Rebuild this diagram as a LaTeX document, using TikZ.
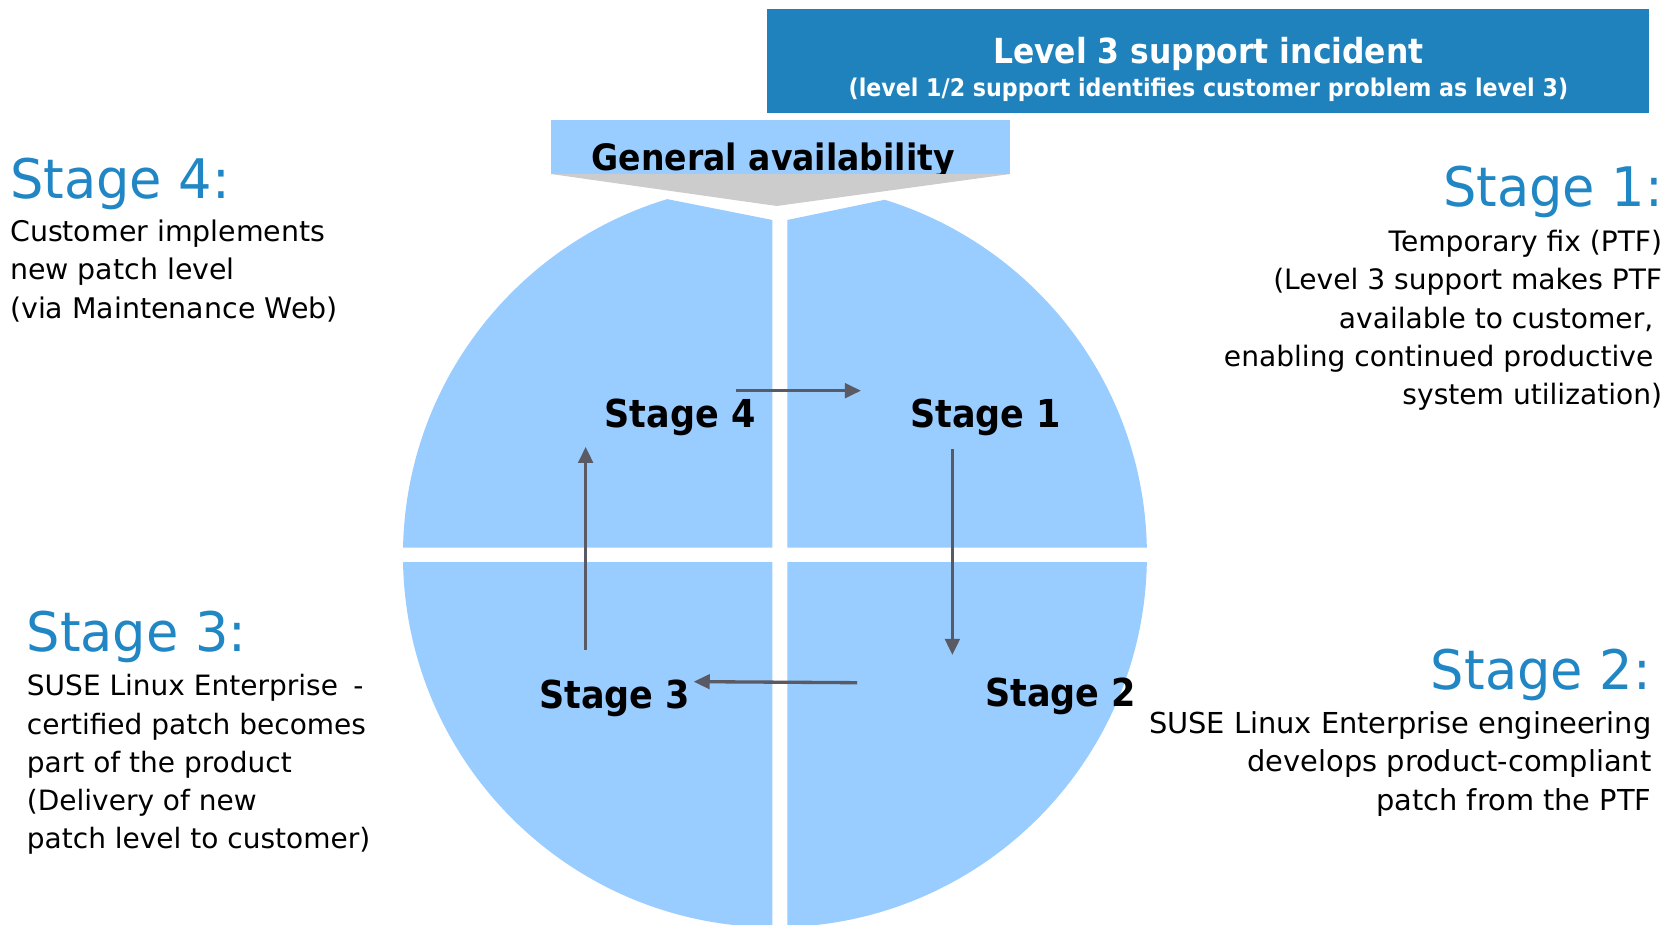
\documentclass[tikz,border=0pt]{standalone}
\usepackage{fontspec}
\setmainfont{DejaVu Sans}
\newfontfamily\condfont[FakeStretch=0.91]{DejaVu Sans}
\newfontfamily\headfont[FakeStretch=0.965]{DejaVu Sans}
\usetikzlibrary{arrows.meta}
\definecolor{boxblue}{RGB}{31,130,189}
\definecolor{headblue}{RGB}{33,134,196}
\definecolor{qblue}{RGB}{153,204,255}
\definecolor{tricol}{RGB}{204,204,204}
\definecolor{arrgray}{RGB}{90,90,100}
\tikzset{
  plain/.style={inner sep=0pt, outer sep=0pt},
  stagelbl/.style={plain, anchor=base west, font=\condfont\bfseries\fontsize{36}{40}\selectfont},
  headtxt/.style={plain, text=headblue, font=\headfont\fontsize{51}{56}\selectfont},
  flow/.style={draw=arrgray, line width=3.1pt, -{Triangle[length=15pt,width=13.5pt]}},
  quad/.style={fill=qblue},
}
\begin{document}
\begin{tikzpicture}[x=1pt,y=-1pt]
\fill[white] (0,0) rectangle (1568,865);
\useasboundingbox (0,0) rectangle (1568,865);

% title box
\node[plain, fill=boxblue, anchor=north west, minimum width=825pt, minimum height=98pt] (titlebox) at (718,8) {};
\node[plain, anchor=base, text=white, font=\condfont\bfseries\fontsize{32.3}{36}\selectfont] (title) at (1130.5,59.3) {Level 3 support incident};
\node[plain, anchor=base, text=white, font=\condfont\bfseries\fontsize{22.8}{26}\selectfont] (subtitle) at (1130.5,90.4) {(level 1/2 support identifies customer problem as level 3)};

% quadrants
\begin{scope}
\clip (360,512.4) -- (360,133.9) -- (722.6,205.8) -- (722.6,512.4) -- cycle;
\fill[quad] (725,519.5) circle[radius=348];
\end{scope}
\begin{scope}
\clip (736.6,512.4) -- (736.6,205.8) -- (1100,130.3) -- (1100,512.4) -- cycle;
\fill[quad] (725,519.5) circle[radius=348];
\end{scope}
\begin{scope}
\clip (360,526.7) -- (722.6,526.7) -- (722.6,900) -- (360,900) -- cycle;
\fill[quad] (725,519.5) circle[radius=348];
\end{scope}
\begin{scope}
\clip (736.6,526.7) -- (1100,526.7) -- (1100,900) -- (736.6,900) -- cycle;
\fill[quad] (725,519.5) circle[radius=348];
\end{scope}

% general availability
\node[plain, fill=qblue, anchor=north west, minimum width=429.5pt, minimum height=51pt] (gabox) at (515.5,112) {};
\node[plain, anchor=base, font=\condfont\bfseries\fontsize{34}{40}\selectfont] (gatxt) at (723.5,159.7) {General availability};
\fill[tricol] (515.5,162.8) -- (945,162.8) -- (726.6,192.7) -- cycle;

% stage labels in circle
\node[stagelbl] (s4) at (565.8,400.4) {Stage 4};
\node[stagelbl] (s1) at (851.5,400.4) {Stage 1};
\node[stagelbl] (s3) at (504.5,663) {Stage 3};
\node[stagelbl] (s2) at (921.6,661) {Stage 2};

% arrows
\coordinate (a4s) at (689,365.5);
\coordinate (a4e) at (805.5,365.5);
\coordinate (a1s) at (891,420);
\coordinate (a1e) at (891,612.8);
\coordinate (a2s) at (801.8,638.7);
\coordinate (a2e) at (649,637.7);
\coordinate (a3s) at (547.9,608);
\coordinate (a3e) at (547.9,418);
\draw[flow] (a4s) -- (a4e);
\draw[flow] (a1s) -- (a1e);
\draw[flow] (a2s) -- (a2e);
\draw[flow] (a3s) -- (a3e);

% side texts
\node[headtxt, anchor=base west] (h4) at (9.4,185.5) {Stage 4:};
\node[plain, anchor=base west] (d4) at (9.5,225.8) {\fontsize{26.6}{36}\selectfont\begin{tabular}[t]{@{}l@{}}Customer implements\\new patch level\\(via Maintenance Web)\end{tabular}};

\node[headtxt, anchor=base east] (h1) at (1556,193.4) {Stage 1:};
\node[plain, anchor=base east] (d1) at (1555,235.4) {\fontsize{26.3}{35.75}\selectfont\begin{tabular}[t]{@{}r@{}}Temporary fix (PTF)\\(Level 3 support makes PTF\\available to customer,\kern8.3pt\\enabling continued productive\kern8.3pt\\system utilization)\end{tabular}};

\node[headtxt, anchor=base west] (h3) at (24.9,609.7) {Stage 3:};
\node[plain, anchor=base west] (d3) at (25.2,651) {\fontsize{26.2}{35.8}\selectfont\begin{tabular}[t]{@{}l@{}}SUSE Linux Enterprise\hspace{0.55em}-\\certified patch becomes\\part of the product\\(Delivery of new\\patch level to customer)\end{tabular}};

\node[headtxt, anchor=base east] (h2) at (1544.5,645.5) {Stage 2:};
\node[plain, anchor=base east] (d2) at (1545,686) {\fontsize{27}{36}\selectfont\begin{tabular}[t]{@{}r@{}}SUSE Linux Enterprise engineering\\develops product-compliant\\patch from the PTF\end{tabular}};
\end{tikzpicture}
\end{document}
